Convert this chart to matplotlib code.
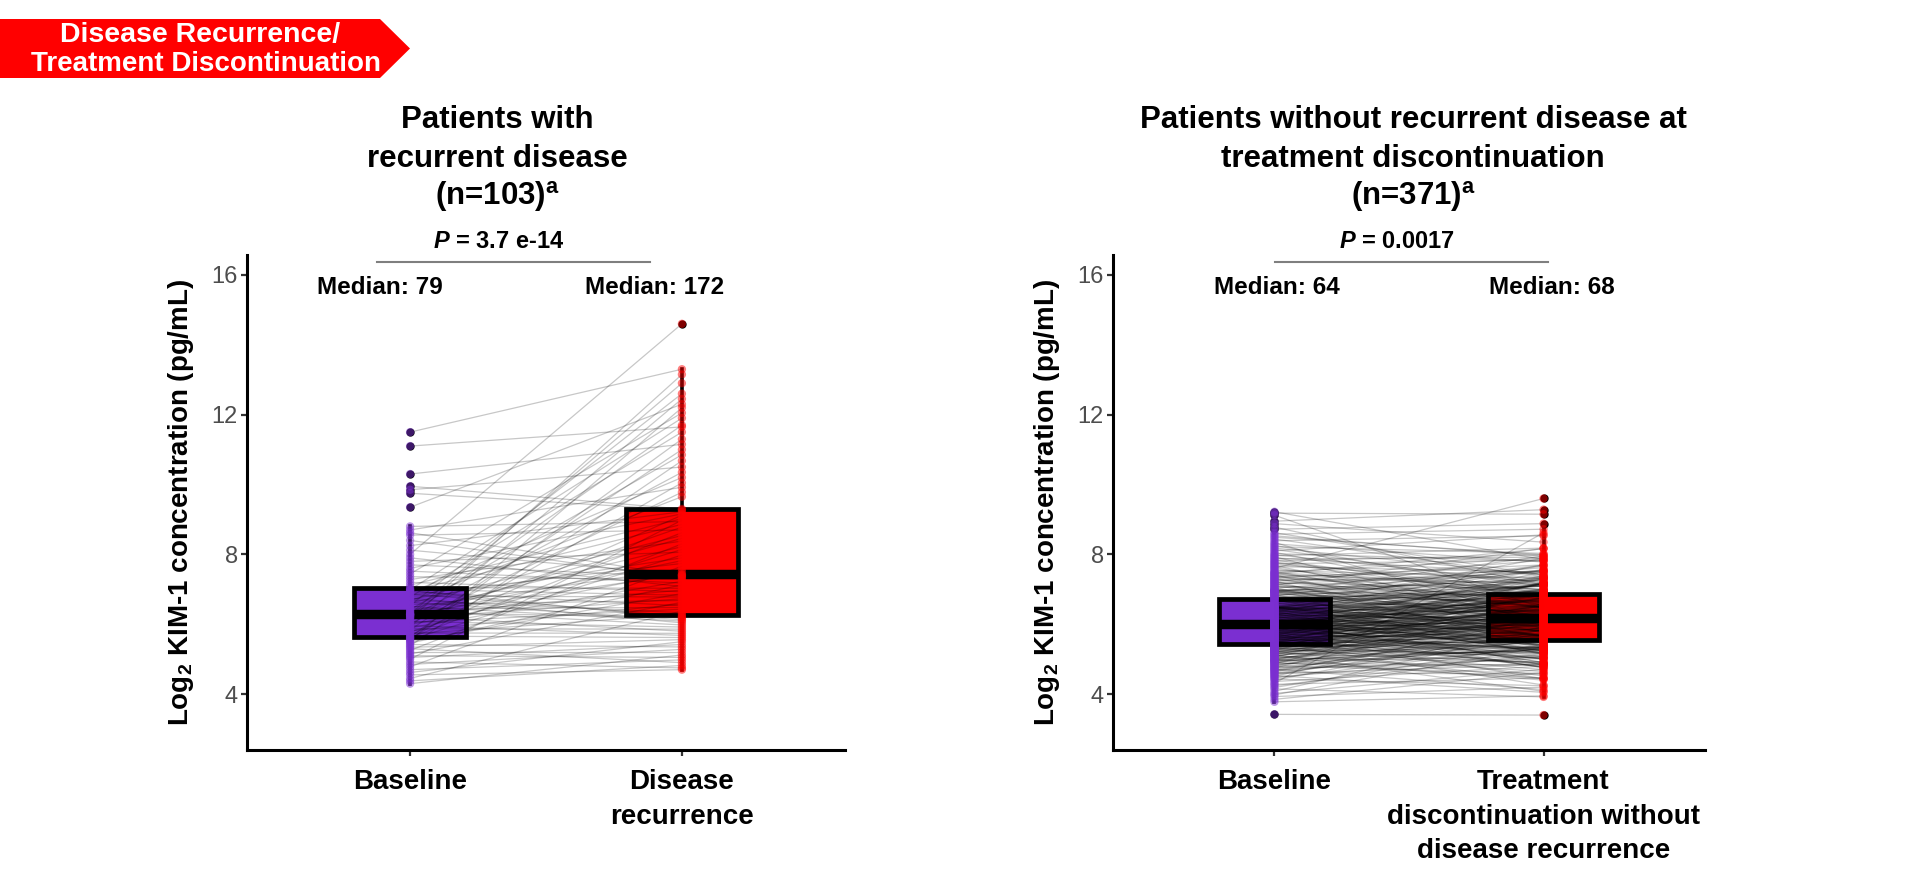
import numpy as np
import matplotlib
matplotlib.use('Agg')
import matplotlib.pyplot as plt
from matplotlib.collections import LineCollection
from matplotlib.patches import Polygon
from matplotlib.lines import Line2D

# Log2 KIM-1 values (paired: baseline -> second visit)
rec_baseline = [
    4.30, 4.38, 4.45, 4.55, 4.62, 4.70, 4.78, 4.85, 4.92, 5.00, 5.05, 5.10, 5.15,
    5.20, 5.25, 5.30, 5.34, 5.38, 5.42, 5.46, 5.50, 5.53, 5.56, 5.59, 5.61, 5.63,
    5.66, 5.69, 5.72, 5.75, 5.78, 5.81, 5.84, 5.87, 5.90, 5.93, 5.96, 5.99, 6.02,
    6.05, 6.08, 6.11, 6.14, 6.17, 6.20, 6.22, 6.24, 6.26, 6.27, 6.28, 6.29,
    6.30,
    6.33, 6.36, 6.39, 6.42, 6.45, 6.48, 6.51, 6.54, 6.57, 6.60, 6.63, 6.66, 6.69,
    6.72, 6.75, 6.78, 6.81, 6.84, 6.87, 6.90, 6.93, 6.95, 6.97, 6.99, 7.00,
    7.05, 7.12, 7.20, 7.28, 7.36, 7.44, 7.52, 7.60, 7.70, 7.80, 7.90, 8.00, 8.12,
    8.25, 8.40, 8.55, 8.62, 8.70, 8.80, 9.35, 9.75, 9.85, 9.95, 10.30, 11.10, 11.50,
]
rec_recurrence = [
    5.12, 4.82, 6.38, 4.70, 5.50, 4.98, 7.66, 5.28, 4.75, 8.98, 5.42, 5.05, 6.63,
    5.20, 8.30, 4.90, 5.56, 10.68, 5.35, 7.13, 6.88, 12.20, 7.98, 10.05, 8.62, 11.30,
    5.62, 9.12, 6.28, 5.74, 8.14, 6.58, 11.00, 5.86, 7.23, 12.45, 5.68, 7.50, 9.78,
    6.43, 5.92, 8.78, 13.15, 6.73, 10.35, 5.80, 7.82, 6.98, 11.70, 8.46, 12.90,
    7.43,
    6.20, 8.22, 5.98, 10.85, 6.48, 7.58, 6.09, 12.60, 6.68, 8.54, 6.13, 9.65, 6.33,
    7.90, 6.04, 11.50, 6.78, 7.74, 6.23, 10.20, 6.53, 8.86, 6.17, 11.90, 6.83,
    7.03, 9.02, 6.93, 8.38, 7.28, 12.05, 7.18, 9.16, 7.36, 8.06, 7.08, 14.60, 7.41,
    9.22, 7.32, 8.70, 7.39, 9.92, 8.94, 12.30, 9.27, 10.50, 9.30, 11.15, 11.65, 13.30,
]

norec_baseline = [
    3.42, 3.78, 3.85, 3.93, 3.98,
    4.02, 4.08, 4.15, 4.19, 4.24, 4.28, 4.31, 4.36, 4.40, 4.43, 4.46, 4.49,
    4.51, 4.53, 4.56, 4.58, 4.60, 4.62, 4.64, 4.66, 4.68, 4.70,
    4.71, 4.73, 4.75, 4.76, 4.78, 4.80, 4.81, 4.83, 4.85, 4.86,
    4.88, 4.89, 4.91, 4.92, 4.93, 4.95, 4.96, 4.97, 4.98, 4.99,
    5.00, 5.01, 5.03, 5.04, 5.05, 5.06, 5.08, 5.09, 5.10, 5.11,
    5.12, 5.13, 5.15, 5.16, 5.17, 5.18, 5.19, 5.20, 5.21, 5.22,
    5.23, 5.24, 5.25, 5.26, 5.27, 5.28, 5.29, 5.30, 5.30, 5.31,
    5.32, 5.33, 5.34, 5.35, 5.35, 5.36, 5.37, 5.38, 5.39, 5.40,
    5.40, 5.41, 5.42, 5.43, 5.43, 5.44, 5.45, 5.45, 5.46, 5.47,
    5.47, 5.48, 5.49, 5.49, 5.49,
    5.50, 5.51, 5.51, 5.52, 5.53, 5.53, 5.54, 5.55, 5.55, 5.56,
    5.57, 5.57, 5.58, 5.59, 5.59, 5.60, 5.61, 5.61, 5.62, 5.63,
    5.63, 5.64, 5.65, 5.65, 5.66, 5.67, 5.67, 5.68, 5.69, 5.69,
    5.70, 5.71, 5.71, 5.72, 5.73, 5.73, 5.74, 5.75, 5.75, 5.76,
    5.77, 5.77, 5.78, 5.79, 5.79, 5.80, 5.81, 5.81, 5.82, 5.83,
    5.83, 5.84, 5.85, 5.85, 5.86, 5.87, 5.87, 5.88, 5.89, 5.89,
    5.90, 5.90, 5.91, 5.92, 5.92, 5.93, 5.93, 5.94, 5.94, 5.95,
    5.95, 5.96, 5.96, 5.97, 5.97, 5.98, 5.98, 5.99, 5.99, 5.99,
    5.99, 5.99, 5.99,
    6.00, 6.00, 6.01, 6.02, 6.02, 6.03, 6.04, 6.04, 6.05, 6.06,
    6.06, 6.07, 6.08, 6.08, 6.09, 6.10, 6.10, 6.11, 6.12, 6.12,
    6.13, 6.14, 6.15, 6.15, 6.16, 6.17, 6.18, 6.18, 6.19, 6.20,
    6.21, 6.21, 6.22, 6.23, 6.24, 6.24, 6.25, 6.26, 6.27, 6.27,
    6.28, 6.29, 6.30, 6.30, 6.31, 6.32, 6.33, 6.33, 6.34, 6.35,
    6.36, 6.36, 6.37, 6.38, 6.39, 6.39, 6.40, 6.41, 6.42, 6.42,
    6.43, 6.44, 6.44, 6.45, 6.45, 6.46, 6.46, 6.47, 6.47, 6.48,
    6.48, 6.48, 6.49, 6.49, 6.49, 6.49, 6.49, 6.49,
    6.50, 6.52, 6.53, 6.55, 6.56, 6.58, 6.59, 6.61, 6.62, 6.64,
    6.65, 6.67, 6.68, 6.70, 6.71, 6.72, 6.73, 6.74, 6.76, 6.77,
    6.78, 6.80, 6.81, 6.82, 6.84, 6.85, 6.86, 6.88, 6.89, 6.90,
    6.92, 6.93, 6.94, 6.96, 6.97, 6.98, 6.91, 6.95, 6.98, 6.99,
    7.01, 7.03, 7.04, 7.06, 7.08, 7.10, 7.11, 7.13, 7.15, 7.17,
    7.19, 7.20, 7.22, 7.24, 7.26, 7.28, 7.30, 7.31, 7.33, 7.35,
    7.37, 7.39, 7.41, 7.42, 7.44, 7.46, 7.48, 7.49,
    7.51, 7.54, 7.57, 7.60, 7.62, 7.65, 7.68, 7.70, 7.73, 7.76,
    7.78, 7.81, 7.84, 7.87, 7.90, 7.93, 7.96, 7.99,
    8.02, 8.06, 8.10, 8.14, 8.18, 8.22, 8.26, 8.30, 8.34, 8.39, 8.44, 8.49,
    8.53, 8.58, 8.62, 8.72, 8.78, 8.88, 8.95, 9.12, 9.18, 9.22,
]
norec_discontinuation = [
    3.40, 3.95, 4.62, 4.20, 5.35,
    4.71, 5.85, 3.92, 5.43, 5.16, 4.46, 8.62, 4.80, 5.86, 4.24, 5.37, 5.08,
    6.21, 4.05, 5.74, 4.85, 5.56, 4.57, 6.08, 5.30, 5.91, 5.02,
    4.13, 5.54, 6.55, 4.86, 5.37, 6.28, 4.59, 5.70, 5.31, 6.92,
    4.83, 5.83, 4.45, 5.55, 6.16, 5.07, 5.28, 6.26, 5.27, 6.39,
    4.40, 5.91, 5.62, 4.92, 6.93, 5.24, 6.25, 4.65, 5.76, 5.47,
    6.57, 4.08, 6.09, 5.20, 5.90, 4.91, 6.41, 5.62, 6.23, 5.33,
    4.44, 5.84, 6.85, 5.16, 5.66, 6.59, 4.87, 5.98, 5.58, 7.19,
    5.09, 6.10, 4.70, 5.81, 6.44, 5.32, 5.52, 6.53, 5.73, 6.54,
    5.04, 6.05, 5.35, 6.26, 4.26, 6.76, 5.67, 5.97, 4.88, 6.48,
    5.48, 7.21, 5.19, 5.89, 6.19,
    6.10, 5.01, 6.91, 5.61, 6.32, 4.52, 5.82, 6.53, 5.33, 6.04,
    6.74, 5.44, 4.85, 6.45, 5.95, 5.16, 7.17, 5.77, 6.27, 5.28,
    5.68, 6.78, 4.79, 6.29, 6.00, 5.30, 7.30, 5.61, 6.61, 5.01,
    6.12, 5.83, 6.93, 4.44, 6.44, 5.54, 6.24, 5.25, 6.75, 5.96,
    6.56, 5.66, 4.77, 6.17, 7.17, 5.48, 5.99, 6.89, 5.19, 6.30,
    5.90, 7.50, 5.41, 6.41, 5.02, 6.12, 6.72, 5.63, 5.83, 6.83,
    6.34, 5.24, 7.15, 5.85, 6.55, 4.76, 6.06, 6.76, 5.56, 6.27,
    6.97, 5.68, 5.08, 6.68, 6.18, 5.39, 7.39, 5.99, 6.49, 5.49,
    5.89, 6.99, 4.99,
    5.70, 6.80, 6.31, 4.91, 7.01, 6.02, 6.62, 5.32, 7.33, 5.84,
    6.14, 6.74, 5.55, 6.45, 4.75, 7.16, 5.96, 6.57, 5.27, 6.27,
    6.48, 5.38, 7.29, 5.99, 6.70, 4.90, 6.21, 6.91, 5.71, 6.42,
    7.13, 5.83, 5.23, 6.84, 6.34, 5.54, 7.55, 6.16, 6.66, 5.66,
    6.07, 7.17, 5.18, 6.68, 6.39, 5.69, 7.70, 6.00, 7.00, 5.41,
    6.52, 6.22, 7.32, 4.83, 6.83, 5.93, 6.64, 5.65, 7.15, 6.35,
    6.96, 6.06, 5.16, 6.57, 7.57, 5.88, 6.38, 7.28, 5.58, 6.69,
    6.29, 7.89, 5.79, 6.79, 5.39, 6.49, 7.09, 5.99,
    6.00, 7.11, 6.62, 5.23, 7.34, 6.35, 6.95, 5.67, 7.67, 6.18,
    6.49, 7.10, 5.91, 6.82, 5.13, 7.53, 6.34, 6.94, 5.66, 6.66,
    6.87, 5.78, 7.69, 6.39, 7.10, 5.31, 6.62, 7.33, 6.13, 6.84,
    7.55, 6.26, 5.66, 7.28, 6.78, 5.99, 7.95, 6.57, 7.09, 6.09,
    6.51, 7.62, 5.62, 7.14, 6.85, 6.16, 8.17, 6.48, 7.49, 5.90,
    7.01, 6.72, 7.83, 5.34, 7.36, 6.47, 7.18, 6.19, 7.70, 6.91,
    7.52, 6.63, 5.75, 7.15, 8.16, 6.48, 6.99, 7.89,
    6.21, 7.32, 6.94, 9.60, 6.47, 7.49, 6.11, 7.22, 7.84, 6.76,
    6.97, 7.99, 6.80, 7.92, 7.44, 6.06, 8.18, 7.19,
    7.81, 6.54, 8.56, 7.08, 7.41, 8.03, 6.86, 7.78, 6.10, 8.53, 7.36, 7.99,
    7.95, 8.72, 7.40, 8.88, 7.12, 8.35, 9.28, 6.45, 9.15, 7.85,
]
assert len(rec_baseline) == len(rec_recurrence) == 103
assert len(norec_baseline) == len(norec_discontinuation) == 371

left_xlabels = ['Baseline', 'Disease\nrecurrence']
right_xlabels = ['Baseline', 'Treatment\ndiscontinuation without\ndisease recurrence']
left_title = ['Patients with', 'recurrent disease', r'(n=103)$^{\mathbf{a}}$']
right_title = ['Patients without recurrent disease at', 'treatment discontinuation',
               r'(n=371)$^{\mathbf{a}}$']
left_p = r'$\mathbfit{P}$ = 3.7 e-14'
right_p = r'$\mathbfit{P}$ = 0.0017'
left_medians = ['Median: 79', 'Median: 172']
right_medians = ['Median: 64', 'Median: 68']

PURPLE = '#7B2FD1'
RED = '#FF0000'

plt.rcParams['font.family'] = ['Liberation Sans', 'DejaVu Sans']
plt.rcParams['mathtext.fontset'] = 'custom'
plt.rcParams['mathtext.rm'] = 'Liberation Sans'
plt.rcParams['mathtext.bf'] = 'Liberation Sans:bold'
plt.rcParams['mathtext.it'] = 'Liberation Sans:italic'
plt.rcParams['mathtext.bfit'] = 'Liberation Sans:italic:bold'

W, H = 1919, 877


def fx(x):
    return x / W


def fy(y):
    return 1 - y / H


fig = plt.figure(figsize=(W / 100, H / 100), dpi=100)
ax1 = fig.add_axes([fx(247), fy(750), 598 / W, 495 / H])
ax2 = fig.add_axes([fx(1113), fy(750), 592 / W, 495 / H])


def draw_panel(ax, base, follow, xlabels):
    bp = ax.boxplot([base, follow], positions=[1, 2], widths=0.415,
                    patch_artist=True, showcaps=False, zorder=1,
                    boxprops=dict(linewidth=3.4, edgecolor='black'),
                    whiskerprops=dict(linewidth=2.6, color='black'),
                    medianprops=dict(linewidth=6.8, color='black',
                                     solid_capstyle='butt'),
                    flierprops=dict(marker='o', markerfacecolor='black',
                                    markeredgecolor='none', markersize=6))
    for patch, col in zip(bp['boxes'], [PURPLE, RED]):
        patch.set_facecolor(col)

    segs = [[(1, b), (2, f)] for b, f in zip(base, follow)]
    ax.add_collection(LineCollection(segs, colors='black', alpha=0.22,
                                     linewidths=0.9, zorder=2))
    ax.scatter(np.ones(len(base)), base, s=36, color=PURPLE, alpha=0.5,
               edgecolors='none', zorder=3)
    ax.scatter(np.full(len(follow), 2), follow, s=36, color=RED, alpha=0.5,
               edgecolors='none', zorder=3)

    ax.set_xlim(0.4, 2.6)
    ax.set_ylim(2.4, 16.57)
    ax.set_yticks([4, 8, 12, 16])
    ax.set_xticks([1, 2])
    ax.set_xticklabels(xlabels, fontsize=20, fontweight='bold', linespacing=1.44)
    for s in ['top', 'right']:
        ax.spines[s].set_visible(False)
    for s in ['left', 'bottom']:
        ax.spines[s].set_linewidth(2.2)
    ax.tick_params(axis='both', length=4.5, width=1.6, color='#333333')
    ax.tick_params(axis='y', labelsize=17, labelcolor='#4D4D4D', pad=2)
    ax.tick_params(axis='x', pad=9)
    ax.set_ylabel(r'Log$_{\mathbf{2}}$ KIM-1 concentration (pg/mL)', fontsize=20,
                  fontweight='bold', labelpad=11)


draw_panel(ax1, rec_baseline, rec_recurrence, left_xlabels)
draw_panel(ax2, norec_baseline, norec_discontinuation, right_xlabels)

# titles
for cx, lines in [(497, left_title), (1413, right_title)]:
    for line, by in zip(lines, [128, 167, 205]):
        fig.text(fx(cx), fy(by), line, ha='center', va='baseline',
                 fontsize=22.5, fontweight='bold')

# P values with bracket lines
for cx, txt in [(499, left_p), (1397, right_p)]:
    fig.text(fx(cx), fy(248), txt, ha='center', va='baseline',
             fontsize=17, fontweight='bold')
for x0, x1 in [(377, 650), (1275, 1548)]:
    fig.add_artist(Line2D([fx(x0), fx(x1)], [fy(262), fy(262)],
                          color='#7F7F7F', linewidth=1.5,
                          transform=fig.transFigure))

# median labels
for cxs, labels in [((380, 655), left_medians), ((1277, 1552), right_medians)]:
    for cx, lab in zip(cxs, labels):
        fig.text(fx(cx), fy(288), lab, ha='center', va='center',
                 fontsize=17.5, fontweight='bold')

# banner arrow
banner = Polygon([(fx(0), fy(19)), (fx(380), fy(19)), (fx(410), fy(48.5)),
                  (fx(380), fy(78)), (fx(0), fy(78))], closed=True,
                 facecolor=RED, edgecolor='none', transform=fig.transFigure)
fig.add_artist(banner)
fig.text(fx(200), fy(42), 'Disease Recurrence/', ha='center', va='baseline',
         fontsize=20.5, fontweight='bold', color='white')
fig.text(fx(206), fy(71), 'Treatment Discontinuation', ha='center', va='baseline',
         fontsize=20, fontweight='bold', color='white')

fig.savefig('out.png', dpi=100)
